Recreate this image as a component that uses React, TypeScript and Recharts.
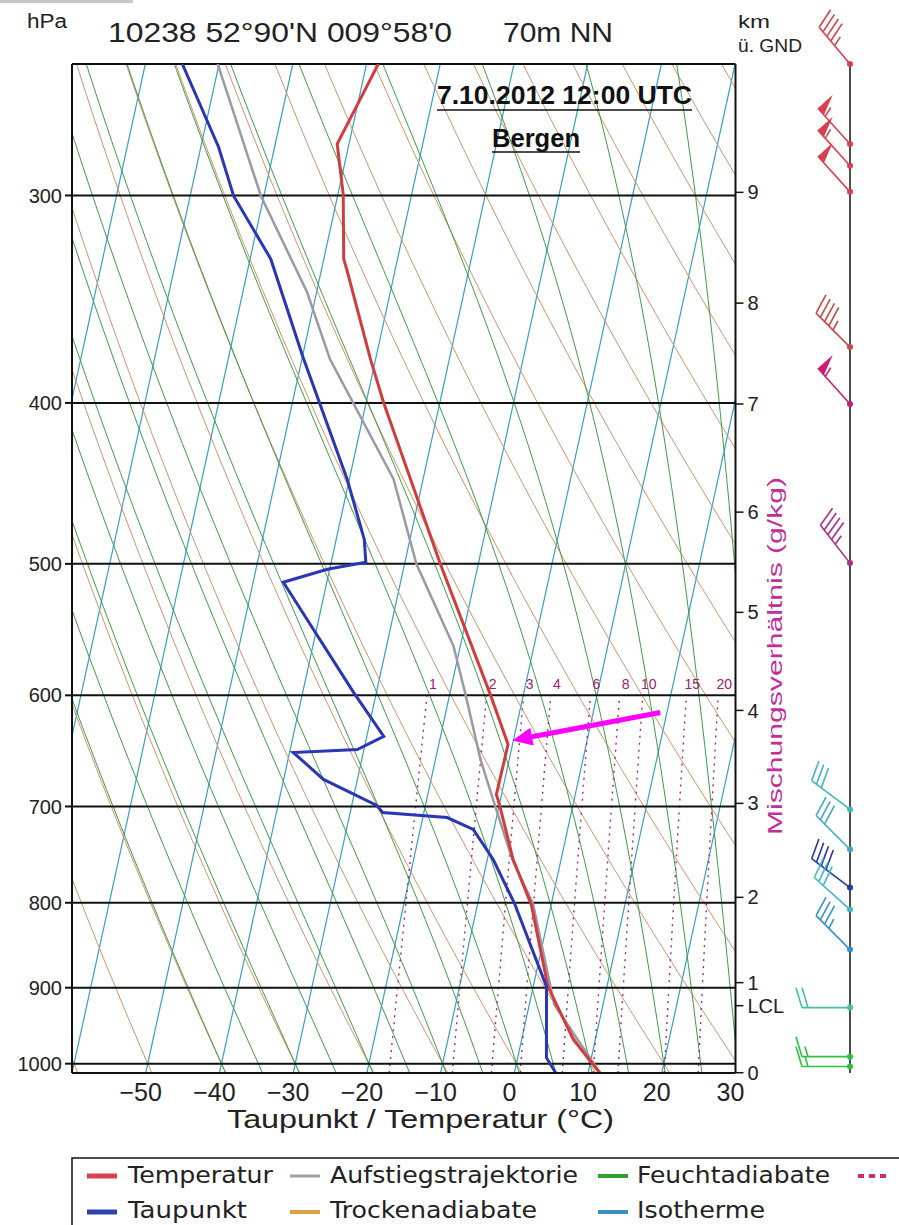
import React from "react";
import { ComposedChart, Line, Scatter, XAxis, YAxis, ReferenceLine } from "recharts";

// skew-T frame
const P_TOP = 250;
const P_BOT = 1013;
const SKEW = 21.4; // degC shift per ln(p) unit
const skewX = (t: number, p: number) => t + SKEW * Math.log(P_BOT / p);

// sounding Bergen 7.10.2012 12 UTC
const tempP = [1013, 967, 898.6, 802, 753.4, 700.9, 688.4, 642.3, 599.2, 499.6, 400, 376.4, 333.6, 327.6, 299.4, 279.3, 250];
const tempT = [11.6, 7.0, 2.0, -2.7, -6.5, -9.8, -10.7, -10.6, -14.5, -25.2, -37.6, -40.7, -46.4, -47.3, -49.3, -51.6, -48.4];

const dewP = [1012.6, 991.7, 898.6, 800.9, 753.4, 722.7, 710.8, 705.8, 699, 674.2, 649.5, 646.8, 635.2, 597.6, 512.9, 503.8, 498.9, 483.2, 444.6, 374.8, 327.6, 300.2, 280.5, 249.9];
const dewT = [5.6, 3.9, 1.8, -5.0, -9.2, -12.8, -16.7, -25.6, -26.6, -34.6, -39.5, -30.9, -27.7, -33.1, -45.9, -40.3, -35.3, -36.2, -40.3, -50.0, -57.2, -64.1, -67.6, -75.0];

const parcelP = [1012.6, 921.4, 800.9, 753.4, 700, 655.8, 600, 560.6, 500, 444.6, 376.4, 343, 300.2, 249.9];
const parcelT = [11.6, 3.4, -2.5, -6.6, -10.5, -13.9, -17.8, -20.9, -28.4, -34.0, -46.2, -51.3, -60.4, -70.2];

// background line families
const isotherms = [-90, -80, -70, -60, -50, -40, -30, -20, -10, 0, 10, 20, 30];
const dryTheta = [-60, -50, -40, -30, -20, -10, 0, 10, 20, 30, 40, 50, 60, 70, 80, 90, 100, 110, 120, 130];
const moistT0 = [-40, -35, -30, -25, -20, -15, -10, -5, 0, 5, 10, 15, 20, 25, 30, 35, 40];
const mixRatio = [1, 2, 3, 4, 6, 8, 10, 15, 20];

// axes
const xTicks = [-50, -40, -30, -20, -10, 0, 10, 20, 30];
const pTicks = [300, 400, 500, 600, 700, 800, 900, 1000];
const kmLabels = ["0", "LCL", "1", "2", "3", "4", "5", "6", "7", "8", "9"];
const kmP = [1012.6, 922.7, 893.7, 794, 697, 612.7, 534.8, 465.4, 400.6, 348.3, 298.7];

// wind barbs
const windP = [250, 279.3, 287.9, 298.5, 370.2, 400.6, 499.5, 702.9, 743, 783.3, 807.6, 853.7, 925.2, 990.3, 1004];
const windDir = [320, 318, 318, 318, 315, 318, 322, 307, 315, 307, 312, 315, 270, 270, 270];
const windKt = [45, 55, 55, 50, 45, 55, 45, 30, 30, 40, 30, 35, 20, 15, 15];
const windColor = ["#d84050", "#d84050", "#d84050", "#d84050", "#c44a4a", "#c8206e", "#a8308a", "#40b8b8", "#40a8c8", "#2838a0", "#40b8c8", "#3890d0", "#40c0a8", "#30c040", "#30c040"];

// annotation arrow (skewed x, hPa)
const arrowX = [19.8, -0.27];
const arrowP = [614.4, 638.7];

const FONT = "'Liberation Sans', Arial, sans-serif";
const W = 899;
const H = 1225;

const pGrid: number[] = [];
for (let p = P_BOT; p > P_TOP; p -= 12) pGrid.push(p);
pGrid.push(P_TOP);

const RD = 287.04, CP = 1005.7, LV = 2.501e6, EPS = 0.622;
const satVap = (tc: number) => 6.112 * Math.exp((17.67 * tc) / (tc + 243.5));
const moistGrad = (tK: number, p: number) => {
  const es = satVap(tK - 273.15);
  const rs = (EPS * es) / (p - es);
  return (RD * tK + LV * rs) / (CP + (LV * LV * rs * EPS) / (RD * tK * tK));
};

const pts = (ps: number[], ts: number[]) => ps.map((p, i) => ({ x: skewX(ts[i], p), p }));

const isoData = isotherms.map((t) => [P_BOT, P_TOP].map((p) => ({ x: skewX(t, p), p })));
const dryData = dryTheta.map((th) => pGrid.map((p) => ({ x: skewX((th + 273.15) * Math.pow(p / 1000, 0.2857) - 273.15, p), p })));
const moistData = moistT0.map((t0) => {
  const out: { x: number; p: number }[] = [];
  let tK = t0 + 273.15;
  let lp = Math.log(1000);
  const tb = tK + moistGrad(tK, 1000) * (Math.log(P_BOT) - lp);
  out.push({ x: skewX(tb - 273.15, P_BOT), p: P_BOT });
  const dl = 0.005;
  let n = 0;
  while (lp > Math.log(P_TOP) - 0.02) {
    if (n % 4 === 0) out.push({ x: skewX(tK - 273.15, Math.exp(lp)), p: Math.exp(lp) });
    const k1 = moistGrad(tK, Math.exp(lp));
    const k2 = moistGrad(tK - k1 * dl, Math.exp(lp - dl));
    tK -= 0.5 * (k1 + k2) * dl;
    lp -= dl;
    n++;
  }
  return out;
});
const tdMix = (w: number, p: number) => {
  const l = Math.log((w * p) / (622 + w) / 6.112);
  return (243.5 * l) / (17.67 - l);
};
const mixData = mixRatio.map((w) => pGrid.filter((p) => p >= 600).concat([600]).map((p) => ({ x: skewX(tdMix(w, p), p), p })));
const mixLabels = mixRatio.map((w) => ({ x: skewX(tdMix(w, 600), 600), p: 600, w }));
const windData = windP.map((p, i) => ({ x: 1, p, dir: windDir[i], kt: windKt[i], color: windColor[i] }));

function XTick(props: any) {
  const { x, y, payload } = props;
  const v = payload.value;
  return (
    <text x={x - 5} y={y} dy="0.71em" textAnchor="middle" fontSize={25} fill="#222" fontFamily={FONT}>
      {v < 0 ? "\u2212" + Math.abs(v) : String(v)}
    </text>
  );
}

function MixLabel(props: any) {
  const { cx, cy, payload } = props;
  return (
    <text x={cx + 6} y={cy - 6} textAnchor="middle" fontSize={14} fill="#a0206a" fontFamily={FONT}>
      {payload.w}
    </text>
  );
}

function Arrow(props: any) {
  const { x1, y1, x2, y2 } = props;
  const dx = x2 - x1, dy = y2 - y1;
  const len = Math.hypot(dx, dy);
  const ux = dx / len, uy = dy / len;
  const hl = 20, hw = 9;
  const bx = x2 - ux * hl, by = y2 - uy * hl;
  return (
    <g>
      <line x1={x1} y1={y1} x2={bx} y2={by} stroke="#ff00ff" strokeWidth={5} />
      <polygon points={`${x2},${y2} ${bx - uy * hw},${by + ux * hw} ${bx + uy * hw},${by - ux * hw}`} fill="#ff00ff" />
    </g>
  );
}

function Barb(props: any) {
  const { cx, cy, payload } = props;
  if (cx == null || cy == null) return null;
  const d = (payload.dir * Math.PI) / 180;
  const ux = Math.sin(d), uy = -Math.cos(d);
  const px = -uy, py = ux;
  const len = 48, fl = 20, gap = 6;
  const tx = cx + ux * len, ty = cy + uy * len;
  const c = payload.color;
  const els: React.ReactNode[] = [];
  let spd = payload.kt;
  let pos = 0;
  let k = 0;
  while (spd >= 50) {
    const ax = tx - ux * pos, ay = ty - uy * pos;
    const bx = tx - ux * (pos + 9), by = ty - uy * (pos + 9);
    els.push(<polygon key={k++} points={`${ax},${ay} ${ax + px * fl},${ay + py * fl} ${bx},${by}`} fill={c} />);
    pos += 11;
    spd -= 50;
  }
  while (spd >= 10) {
    const ax = tx - ux * pos, ay = ty - uy * pos;
    els.push(<line key={k++} x1={ax} y1={ay} x2={ax + px * fl + ux * 6} y2={ay + py * fl + uy * 6} stroke={c} strokeWidth={1.6} />);
    pos += gap;
    spd -= 10;
  }
  if (spd >= 5) {
    if (pos === 0) pos = gap;
    const ax = tx - ux * pos, ay = ty - uy * pos;
    els.push(<line key={k++} x1={ax} y1={ay} x2={ax + px * fl * 0.5 + ux * 3} y2={ay + py * fl * 0.5 + uy * 3} stroke={c} strokeWidth={1.6} />);
  }
  return (
    <g>
      <line x1={cx} y1={cy} x2={tx} y2={ty} stroke={c} strokeWidth={1.6} />
      {els}
      <circle cx={cx} cy={cy} r={3} fill={c} />
    </g>
  );
}

const legendRows = [
  [
    { label: "Temperatur", color: "#d84050", x: 87, tx: 128, tl: 145, w: 5 },
    { label: "Aufstiegstrajektorie", color: "#a0a0a0", x: 290, tx: 330, tl: 248, w: 3 },
    { label: "Feuchtadiabate", color: "#30a030", x: 598, tx: 637, tl: 193, w: 4 },
  ],
  [
    { label: "Taupunkt", color: "#3040b0", x: 87, tx: 128, tl: 119, w: 5 },
    { label: "Trockenadiabate", color: "#e0a040", x: 290, tx: 330, tl: 207, w: 4 },
    { label: "Isotherme", color: "#3a90c0", x: 598, tx: 637, tl: 128, w: 4 },
  ],
];

export default function App() {
  return (
    <div style={{ position: "absolute", left: 0, top: 0, width: W, height: H, background: "#fff", overflow: "hidden" }}>
      <div style={{ position: "absolute", left: 0, top: 0 }}>
        <ComposedChart width={W} height={H} margin={{ top: 64, left: 12, right: W - 735.5 - 60, bottom: H - 1073 - 50 }}>
          <XAxis type="number" dataKey="x" domain={[-60, 30]} allowDataOverflow ticks={xTicks} interval={0} height={50}
            axisLine={{ stroke: "#111", strokeWidth: 2 }} tickLine={false} tickMargin={4} tick={XTick} />
          <YAxis yAxisId="p" type="number" dataKey="p" scale="log" domain={[P_TOP, P_BOT]} reversed allowDataOverflow
            ticks={pTicks} interval={0} width={60} axisLine={{ stroke: "#111", strokeWidth: 2 }}
            tickLine={{ stroke: "#111", strokeWidth: 2 }} tickSize={7} tickMargin={3}
            tick={{ fontSize: 20, fill: "#222", fontFamily: FONT }} />
          <YAxis yAxisId="km" orientation="right" type="number" dataKey="p" scale="log" domain={[P_TOP, P_BOT]} reversed
            allowDataOverflow ticks={kmP} interval={0} width={60} axisLine={{ stroke: "#111", strokeWidth: 2 }}
            tickLine={{ stroke: "#111", strokeWidth: 1.5 }} tickSize={8} tickMargin={4}
            tick={{ fontSize: 20, fill: "#222", fontFamily: FONT, textAnchor: "start" }}
            tickFormatter={(v: number) => kmLabels[kmP.indexOf(v)]} />

          {isoData.map((d, i) => (
            <Line key={"iso" + i} yAxisId="p" data={d} dataKey="p" stroke="#3a9fc5" strokeWidth={1.2} dot={false} activeDot={false} isAnimationActive={false} />
          ))}
          {dryData.map((d, i) => (
            <Line key={"dry" + i} yAxisId="p" data={d} dataKey="p" stroke="#d2946a" strokeWidth={1} dot={false} activeDot={false} isAnimationActive={false} />
          ))}
          {moistData.map((d, i) => (
            <Line key={"moist" + i} yAxisId="p" data={d} dataKey="p" stroke="#3c9c46" strokeWidth={1} dot={false} activeDot={false} isAnimationActive={false} />
          ))}
          {mixData.map((d, i) => (
            <Line key={"mix" + i} yAxisId="p" data={d} dataKey="p" stroke="#a8286e" strokeWidth={1.4} strokeDasharray="2 5" dot={false} activeDot={false} isAnimationActive={false} />
          ))}
          <Scatter yAxisId="p" data={mixLabels} dataKey="p" shape={MixLabel} isAnimationActive={false} />

          {pTicks.map((p) => (
            <ReferenceLine key={"pl" + p} yAxisId="p" y={p} stroke="#111" strokeWidth={2} ifOverflow="visible" />
          ))}
          <ReferenceLine yAxisId="p" y={P_TOP} stroke="#111" strokeWidth={2} ifOverflow="visible" />

          <Line yAxisId="p" data={pts(parcelP, parcelT)} dataKey="p" stroke="#9a9aa6" strokeWidth={2.5} dot={false} activeDot={false} isAnimationActive={false} />
          <Line yAxisId="p" data={pts(tempP, tempT)} dataKey="p" stroke="#d23c3c" strokeWidth={3} dot={false} activeDot={false} isAnimationActive={false} />
          <Line yAxisId="p" data={pts(dewP, dewT)} dataKey="p" stroke="#2a36b4" strokeWidth={3} dot={false} activeDot={false} isAnimationActive={false} />

          <ReferenceLine yAxisId="p" ifOverflow="visible"
            segment={[{ x: arrowX[0], y: arrowP[0] }, { x: arrowX[1], y: arrowP[1] }]} shape={Arrow} />
        </ComposedChart>
      </div>

      <div style={{ position: "absolute", left: 740, top: 0 }}>
        <ComposedChart width={159} height={H} margin={{ top: 64, left: 0, right: 49, bottom: H - 1073 }}>
          <XAxis type="number" dataKey="x" domain={[0, 1]} hide />
          <YAxis type="number" dataKey="p" scale="log" domain={[P_TOP, P_BOT]} reversed hide />
          <ReferenceLine x={1} stroke="#111" strokeWidth={1.5} ifOverflow="visible" />
          <Scatter data={windData} dataKey="p" shape={Barb} isAnimationActive={false} />
        </ComposedChart>
      </div>

      <svg width={W} height={H} style={{ position: "absolute", left: 0, top: 0, pointerEvents: "none" }} fontFamily={FONT}>
        <rect x={0} y={0} width={133} height={3} fill="#c8c8c8" />
        <text x={27} y={28} fontSize={20} fill="#222" textLength={40} lengthAdjust="spacingAndGlyphs">hPa</text>
        <text x={108} y={42} fontSize={27} fill="#222" textLength={344} lengthAdjust="spacingAndGlyphs">10238 52°90'N 009°58'0</text>
        <text x={503} y={42} fontSize={27} fill="#222" textLength={110} lengthAdjust="spacingAndGlyphs">70m NN</text>
        <text x={738} y={28} fontSize={18} fill="#222" textLength={32} lengthAdjust="spacingAndGlyphs">km</text>
        <text x={738} y={52} fontSize={18} fill="#222" textLength={64} lengthAdjust="spacingAndGlyphs">ü. GND</text>

        <text x={437} y={104} fontSize={26} fontWeight="bold" fill="#111" textLength={255} lengthAdjust="spacingAndGlyphs">7.10.2012  12:00 UTC</text>
        <line x1={437} y1={110} x2={692} y2={110} stroke="#111" strokeWidth={1.5} />
        <text x={492} y={147} fontSize={26} fontWeight="bold" fill="#111" textLength={88} lengthAdjust="spacingAndGlyphs">Bergen</text>
        <line x1={492} y1={152} x2={580} y2={152} stroke="#111" strokeWidth={1.5} />

        <text x={782} y={835} fontSize={20} fill="#c0309a" textLength={358} lengthAdjust="spacingAndGlyphs" transform="rotate(-90 782 835)">Mischungsverhältnis (g/kg)</text>

        <text x={227} y={1128} fontSize={25} fill="#222" textLength={387} lengthAdjust="spacingAndGlyphs">Taupunkt / Temperatur (°C)</text>

        <rect x={72} y={1158} width={900} height={100} fill="none" stroke="#111" strokeWidth={1.5} />
        {legendRows.map((row, r) =>
          row.map((it) => (
            <g key={it.label}>
              <line x1={it.x} y1={r === 0 ? 1176 : 1212} x2={it.x + 30} y2={r === 0 ? 1176 : 1212} stroke={it.color} strokeWidth={it.w} />
              <text x={it.tx} y={r === 0 ? 1183 : 1218} fontSize={23} fill="#222" fontFamily="'DejaVu Sans', sans-serif"
                textLength={it.tl} lengthAdjust="spacingAndGlyphs">{it.label}</text>
            </g>
          ))
        )}
        <line x1={858} y1={1176} x2={890} y2={1176} stroke="#c03070" strokeWidth={4} strokeDasharray="6 5" />
      </svg>
    </div>
  );
}
